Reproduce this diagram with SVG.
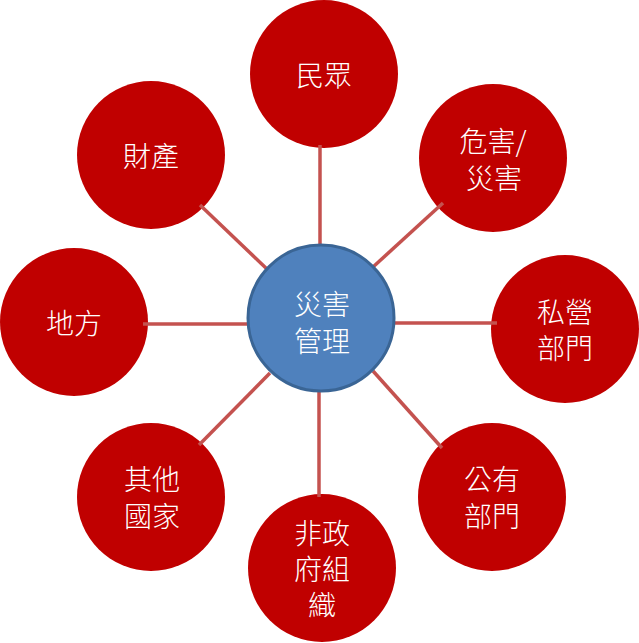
<svg xmlns="http://www.w3.org/2000/svg" width="639" height="643" viewBox="0 0 639 643">
<style>
.outer{fill:#C00000;}
.hub{fill:#4F81BD;stroke:#3A6595;stroke-width:3;}
.lbl{fill:#FFFFFF;font-family:"Noto Sans CJK TC","Noto Sans CJK SC",sans-serif;font-size:28px;font-weight:300;text-anchor:middle;dominant-baseline:central;}
.conn line{stroke:#C4524F;stroke-width:3.5;stroke-linecap:butt;}
</style>
<rect width="639" height="643" fill="#FFFFFF"/>
<g id="n-minzhong"><circle class="outer" cx="324" cy="74" r="74"/><text class="lbl" x="324" y="74">民眾</text></g>
<g id="n-caichan"><circle class="outer" cx="151" cy="155" r="74"/><text class="lbl" x="151" y="155">財產</text></g>
<g id="n-weihai"><circle class="outer" cx="493" cy="158" r="74"/><text class="lbl" x="493" y="140">危害/</text><text class="lbl" x="494" y="177">災害</text></g>
<g id="n-difang"><circle class="outer" cx="74" cy="322" r="74"/><text class="lbl" x="74" y="322">地方</text></g>
<g id="n-siying"><circle class="outer" cx="565" cy="329" r="74"/><text class="lbl" x="565" y="311">私營</text><text class="lbl" x="565" y="347">部門</text></g>
<g id="n-qita"><circle class="outer" cx="151" cy="497" r="74"/><text class="lbl" x="152" y="478">其他</text><text class="lbl" x="152" y="515">國家</text></g>
<g id="n-gongyou"><circle class="outer" cx="492" cy="497" r="74"/><text class="lbl" x="492" y="478">公有</text><text class="lbl" x="492" y="515">部門</text></g>
<g id="n-ngo"><circle class="outer" cx="322" cy="568" r="74"/><text class="lbl" x="322" y="532">非政</text><text class="lbl" x="322" y="568">府組</text><text class="lbl" x="322" y="604">織</text></g>
<g id="connectors" class="conn">
<line x1="320" y1="145" x2="320" y2="250"/>
<line x1="319" y1="388" x2="319" y2="497"/>
<line x1="143" y1="324" x2="250" y2="324"/>
<line x1="393" y1="323" x2="497" y2="323"/>
<line x1="200" y1="205" x2="268" y2="270"/>
<line x1="443" y1="203" x2="373" y2="267"/>
<line x1="199" y1="445" x2="270" y2="373"/>
<line x1="442" y1="448" x2="373" y2="371"/>
</g>
<g id="n-hub"><circle class="hub" cx="321" cy="318" r="73"/><text class="lbl" x="322" y="303">災害</text><text class="lbl" x="322" y="340">管理</text></g>
</svg>
